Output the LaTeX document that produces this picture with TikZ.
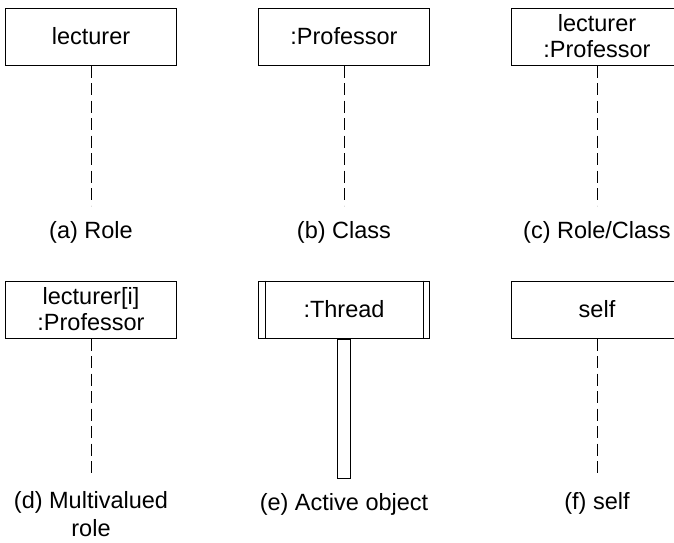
\documentclass[tikz,border=0pt]{standalone}
\usepackage{fontspec}
\setmainfont{Liberation Sans}
\usetikzlibrary{positioning}

\begin{document}
\begin{tikzpicture}[x=1pt, y=-1pt, node distance=81pt,
  objbox/.style={draw, line width=1pt, minimum width=171pt, minimum height=57pt, inner sep=0pt, align=center, font=\fontsize{23.5}{26}\selectfont},
  lifeline/.style={line width=1pt, dash pattern=on 12pt off 5.5pt},
  caption/.style={anchor=base, inner sep=0pt, align=center, font=\fontsize{23.5}{28}\selectfont}]
\useasboundingbox (0,0) rectangle (674,542);
\node[objbox] (a) at (91,36.5) {lecturer};
\node[objbox, right=of a] (b) {:Professor};
\node[objbox, right=of b] (c) {lecturer\\:Professor};
\node[objbox, below=215pt of a] (d) {lecturer[i]\\:Professor};
\node[objbox, right=of d] (e) {:Thread};
\node[objbox, right=of e] (f) {self};

\coordinate (a end) at ([yshift=-140pt]a.south);
\coordinate (b end) at ([yshift=-140pt]b.south);
\coordinate (c end) at ([yshift=-140pt]c.south);
\coordinate (d end) at ([yshift=-139pt]d.south);
\coordinate (f end) at ([yshift=-139pt]f.south);

\draw[lifeline] (a.south) -- (a end);
\draw[lifeline] (b.south) -- (b end);
\draw[lifeline] (c.south) -- (c end);
\draw[lifeline] (d.south) -- (d end);
\draw[lifeline] (f.south) -- (f end);

\draw[line width=1pt] ([xshift=7pt]e.north west) -- ([xshift=7pt]e.south west);
\draw[line width=1pt] ([xshift=-7pt]e.north east) -- ([xshift=-7pt]e.south east);
\node[draw, line width=1pt, minimum width=13pt, minimum height=139pt, inner sep=0pt, anchor=north] (e bar) at (e.south) {};
\coordinate (e end) at (e bar.south);

\node[caption] (a cap) at ([yshift=-33pt]a end) {(a) Role};
\node[caption] (b cap) at ([yshift=-33pt]b end) {(b) Class};
\node[caption] (c cap) at ([yshift=-33pt]c end) {(c) Role/Class};
\node[caption] (d cap) at ([yshift=-59pt]d end) {(d) Multivalued\\role};
\node[caption] (e cap) at ([yshift=-32pt]e end) {(e) Active object};
\node[caption] (f cap) at ([yshift=-32pt]f end) {(f) self};
\end{tikzpicture}
\end{document}
